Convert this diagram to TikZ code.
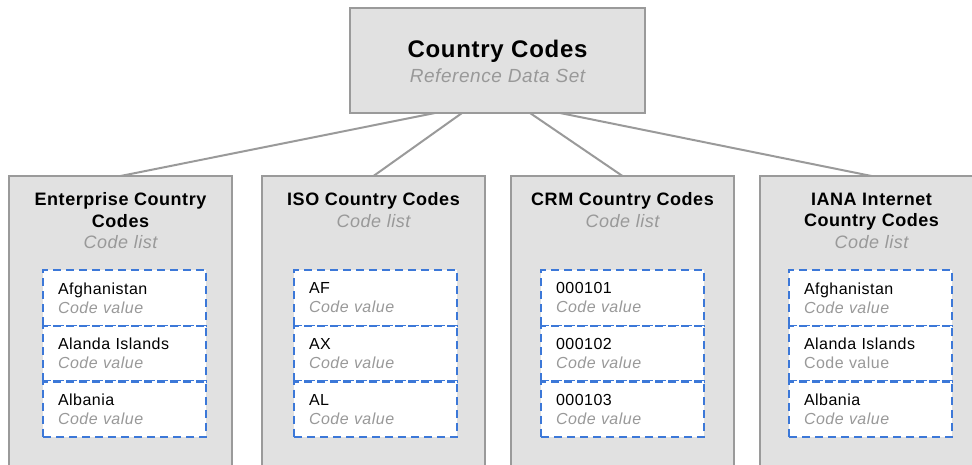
\documentclass[tikz,border=0pt]{standalone}
\usepackage{fontspec}
\setmainfont{Liberation Sans}[LetterSpace=3]
\usetikzlibrary{positioning}
\definecolor{boxgray}{HTML}{E1E1E1}
\definecolor{linegray}{HTML}{9A9A9A}
\definecolor{textgray}{HTML}{999999}
\definecolor{dashblue}{HTML}{3C78D8}
\newcommand{\subtext}[1]{{\mdseries\itshape\color{textgray}#1}}
\begin{document}
\begin{tikzpicture}[x=1pt,y=-1pt]
	\tikzset{dataset/.style = {draw=linegray, fill=boxgray, line width=2pt, minimum width=295pt, minimum height=105pt, inner sep=0pt, outer sep=0pt}}
	\tikzset{codelist/.style = {draw=linegray, fill=boxgray, line width=2pt, minimum width=223pt, minimum height=320pt, anchor=north, inner sep=0pt, outer sep=0pt}}
	\tikzset{listname/.style = {anchor=north, inner sep=0pt, align=center, font=\fontsize{18}{21.5}\selectfont\bfseries}}
	\tikzset{codevalue/.style = {draw=dashblue, fill=white, line width=2.2pt, dash pattern=on 8pt off 5pt, minimum height=55.7pt, text width=133pt, inner xsep=15pt, inner ysep=0pt, outer sep=0pt, align=left, font=\fontsize{16}{19}\selectfont}}
	\tikzset{link/.style = {draw=linegray, line width=2pt}}
	\clip (0,0) rectangle (972,465);
	% Reference data set
	\node[dataset] (codes) at (497.5,60.5) {};
	\node[listname, font=\fontsize{24}{25.5}\selectfont\bfseries] (codes-name) at ([yshift=-31.8pt]codes.north) {Country Codes\\\subtext{\fontsize{19}{25.5}\selectfont Reference Data Set}};
	% Code lists
	\node[codelist] (enterprise) at (120.5,176) {};
	\node[codelist] (iso) at (373.5,176) {};
	\node[codelist] (crm) at (622.5,176) {};
	\node[codelist] (iana) at (871.5,176) {};
	\node[listname] (enterprise-name) at ([yshift=-16.5pt]enterprise.north) {Enterprise Country\\Codes\\\subtext{Code list}};
	\node[listname] (iso-name) at ([yshift=-16.5pt]iso.north) {ISO Country Codes\\\subtext{Code list}};
	\node[listname] (crm-name) at ([yshift=-16.5pt]crm.north) {CRM Country Codes\\\subtext{Code list}};
	\node[listname] (iana-name) at ([yshift=-16.5pt]iana.north) {IANA Internet\\Country Codes\\\subtext{Code list}};
	\draw[link] ([xshift=-62.5pt]codes.south) -- (enterprise.north);
	\draw[link] ([xshift=-35.5pt]codes.south) -- (iso.north);
	\draw[link] ([xshift=32.5pt]codes.south) -- (crm.north);
	\draw[link] ([xshift=62.5pt]codes.south) -- (iana.north);
	% Code values
	\node[codevalue, anchor=north west] (enterprise-1) at (43,270) {Afghanistan\\\subtext{Code value}};
	\node[codevalue, below=0pt of enterprise-1] (enterprise-2) {Alanda Islands\\\subtext{Code value}};
	\node[codevalue, below=0pt of enterprise-2] (enterprise-3) {Albania\\\subtext{Code value}};
	\node[codevalue, anchor=north west] (iso-1) at (294,270) {AF\\\subtext{Code value}};
	\node[codevalue, below=0pt of iso-1] (iso-2) {AX\\\subtext{Code value}};
	\node[codevalue, below=0pt of iso-2] (iso-3) {AL\\\subtext{Code value}};
	\node[codevalue, anchor=north west] (crm-1) at (541,270) {000101\\\subtext{Code value}};
	\node[codevalue, below=0pt of crm-1] (crm-2) {000102\\\subtext{Code value}};
	\node[codevalue, below=0pt of crm-2] (crm-3) {000103\\\subtext{Code value}};
	\node[codevalue, anchor=north west] (iana-1) at (789,270) {Afghanistan\\\subtext{Code value}};
	\node[codevalue, below=0pt of iana-1] (iana-2) {Alanda Islands\\{\color{textgray}Code value}};
	\node[codevalue, below=0pt of iana-2] (iana-3) {Albania\\\subtext{Code value}};
\end{tikzpicture}
\end{document}
